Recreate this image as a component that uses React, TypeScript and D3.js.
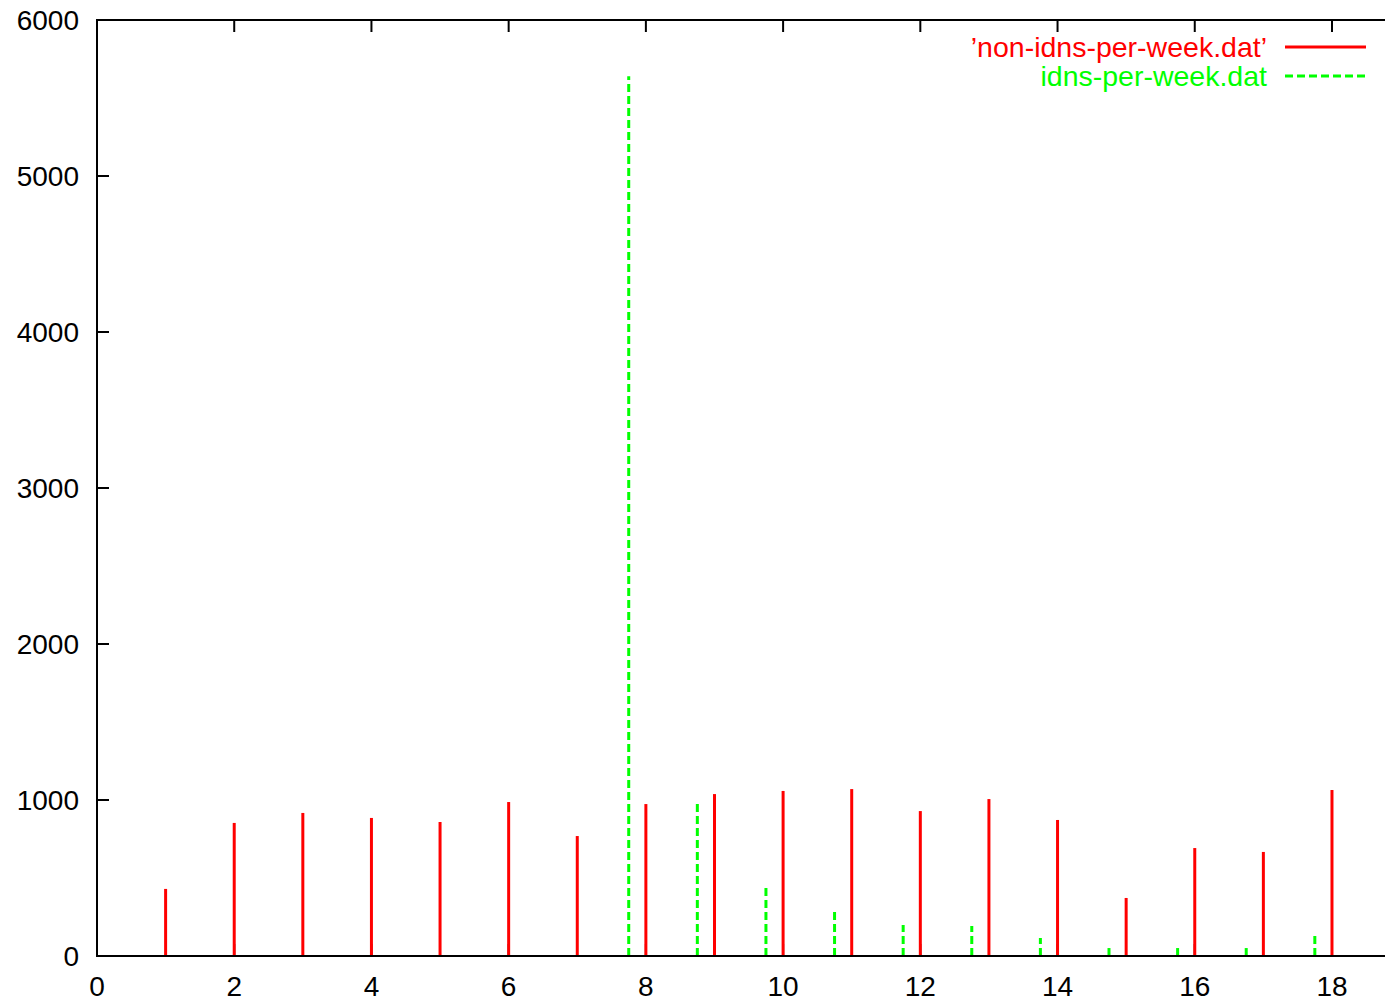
import React, { useRef, useEffect } from 'react';
import * as d3 from 'd3';

// weekly counts
const weeks = [1, 2, 3, 4, 5, 6, 7, 8, 9, 10, 11, 12, 13, 14, 15, 16, 17, 18];
const nonIdns = [430, 853, 917, 885, 859, 987, 769, 974, 1038, 1058, 1070, 929, 1006, 872, 372, 692, 667, 1064];
const idnWeeks = [7.75, 8.75, 9.75, 10.75, 11.75, 12.75, 13.75, 14.75, 15.75, 16.75, 17.75];
const idns = [5640, 987, 449, 288, 199, 192, 115, 51, 51, 51, 128];
const xTicks = [0, 2, 4, 6, 8, 10, 12, 14, 16, 18];
const yTicks = [0, 1000, 2000, 3000, 4000, 5000, 6000];
const legendLabels = ['\u2019non-idns-per-week.dat\u2019', 'idns-per-week.dat'];

const W = 1385;
const H = 1002;
const font = '"Liberation Sans", Arial, sans-serif';

const App = () => {
  const svgRef = useRef(null);

  useEffect(() => {
    const svg = d3.select(svgRef.current);
    svg.selectAll('*').remove();

    const x = d3.scaleLinear().domain([0, 20]).range([97, 97 + 20 * 68.61]);
    const y = d3.scaleLinear().domain([0, 6000]).range([956, 20]);

    // inward ticks (drawn under the impulses)
    const ticks = svg.append('g').attr('stroke', '#000').attr('stroke-width', 2);
    xTicks.forEach(t => {
      ticks.append('line').attr('x1', x(t)).attr('x2', x(t)).attr('y1', y(0)).attr('y2', y(0) - 12);
      ticks.append('line').attr('x1', x(t)).attr('x2', x(t)).attr('y1', y(6000)).attr('y2', y(6000) + 12);
    });
    yTicks.forEach(t => {
      ticks.append('line').attr('x1', x(0)).attr('x2', x(0) + 12).attr('y1', y(t)).attr('y2', y(t));
    });

    // impulses
    svg
      .append('g')
      .selectAll('line')
      .data(weeks)
      .join('line')
      .attr('x1', d => x(d))
      .attr('x2', d => x(d))
      .attr('y1', y(0))
      .attr('y2', (d, i) => y(nonIdns[i]))
      .attr('stroke', '#ff0000')
      .attr('stroke-width', 3);

    svg
      .append('g')
      .selectAll('line')
      .data(idnWeeks)
      .join('line')
      .attr('x1', d => x(d))
      .attr('x2', d => x(d))
      .attr('y1', y(0))
      .attr('y2', (d, i) => y(idns[i]))
      .attr('stroke', '#00ff00')
      .attr('stroke-width', 3)
      .attr('stroke-dasharray', '8,4');

    // frame
    const frame = svg.append('g').attr('stroke', '#000').attr('stroke-width', 2).attr('fill', 'none');
    frame.append('line').attr('x1', x(0) - 1).attr('x2', W + 10).attr('y1', y(0)).attr('y2', y(0));
    frame.append('line').attr('x1', x(0) - 1).attr('x2', W + 10).attr('y1', y(6000)).attr('y2', y(6000));
    frame.append('line').attr('x1', x(0)).attr('x2', x(0)).attr('y1', y(0)).attr('y2', y(6000));

    // tick labels
    svg
      .append('g')
      .selectAll('text')
      .data(yTicks)
      .join('text')
      .attr('x', 79)
      .attr('y', d => y(d))
      .attr('dy', '0.36em')
      .attr('text-anchor', 'end')
      .attr('font-family', font)
      .attr('font-size', 28)
      .text(d => d);

    svg
      .append('g')
      .selectAll('text')
      .data(xTicks)
      .join('text')
      .attr('x', d => x(d))
      .attr('y', 986)
      .attr('dy', '0.36em')
      .attr('text-anchor', 'middle')
      .attr('font-family', font)
      .attr('font-size', 28)
      .text(d => d);

    // legend
    const colors = ['#ff0000', '#00ff00'];
    legendLabels.forEach((lab, i) => {
      const ly = 47 + i * 29;
      svg
        .append('text')
        .attr('x', 1267)
        .attr('y', ly)
        .attr('dy', '0.36em')
        .attr('text-anchor', 'end')
        .attr('font-family', font)
        .attr('font-size', 28.5)
        .attr('fill', colors[i])
        .text(lab);
      svg
        .append('line')
        .attr('x1', 1285)
        .attr('x2', 1366)
        .attr('y1', ly)
        .attr('y2', ly)
        .attr('stroke', colors[i])
        .attr('stroke-width', 3)
        .attr('stroke-dasharray', i === 1 ? '8,4' : null);
    });
  }, []);

  return (
    <svg
      ref={svgRef}
      width={W}
      height={H}
      style={{ position: 'absolute', left: 0, top: 0, background: '#fff' }}
    />
  );
};

export default App;
